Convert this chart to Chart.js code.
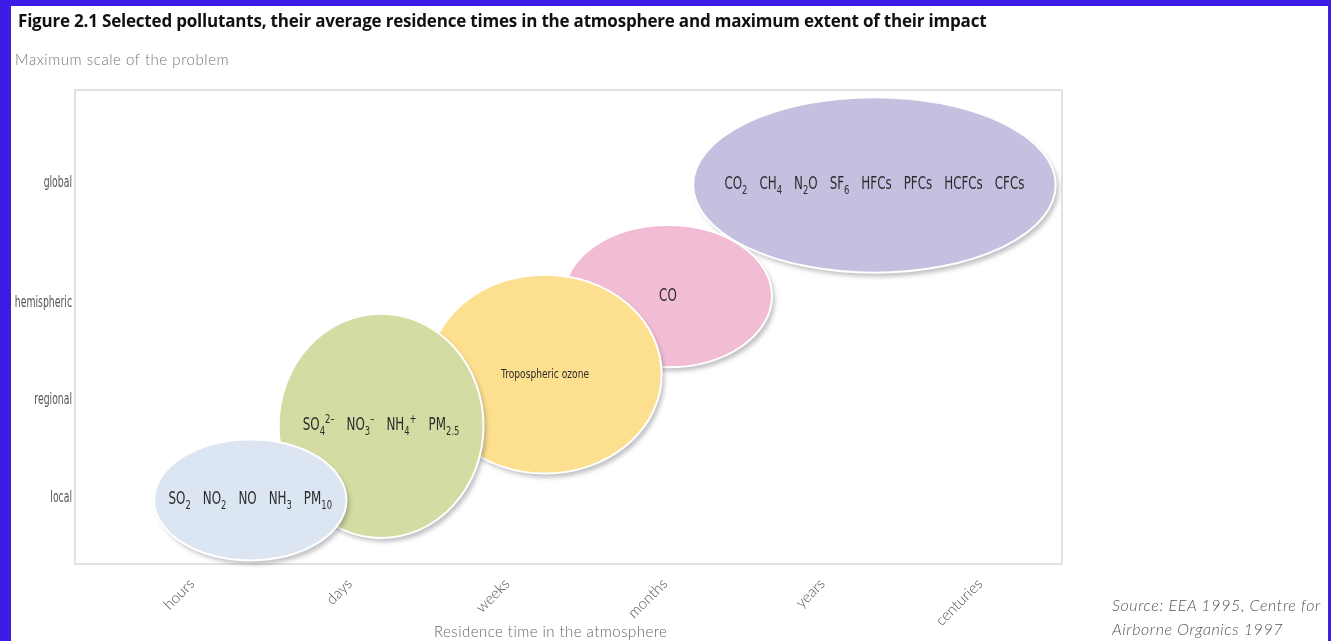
<!DOCTYPE html>
<html>
<head>
<meta charset="utf-8">
<script src="https://cdn.jsdelivr.net/npm/chart.js@4"></script>
<style>
  body { margin: 0; background: #3b1de6; width: 1331px; height: 641px; overflow: hidden; position: relative; }
  #panel { position: absolute; left: 11px; top: 6px; width: 1317px; height: 635px; background: #fff; }
  #wrap { position: absolute; left: 0; top: 0; width: 1331px; height: 641px; }
  .txt { position: absolute; white-space: nowrap; }
  #title { left: 18px; top: 9px; font: bold 17px 'Open Sans', sans-serif; color: #111; letter-spacing: -0.2px; }
  #sub { left: 15px; top: 50px; font: 300 15px 'Lato', sans-serif; color: #777; letter-spacing: 0.55px; }
  #xtitle { left: 434px; top: 622px; font: 300 15px 'Lato', sans-serif; color: #666; letter-spacing: 0.45px; }
  #source { left: 1112px; top: 593px; font: italic 300 16px 'Lato', sans-serif; color: #555; line-height: 24px; letter-spacing: 0.6px; }
</style>
</head>
<body>
<div id="panel"></div>
<div id="wrap"><canvas id="pollutantChart" width="1331" height="641"></canvas></div>
<div class="txt" id="title">Figure 2.1 Selected pollutants, their average residence times in the atmosphere and maximum extent of their impact</div>
<div class="txt" id="sub">Maximum scale of the problem</div>
<div class="txt" id="xtitle">Residence time in the atmosphere</div>
<div class="txt" id="source">Source: EEA 1995, Centre for<br>Airborne Organics 1997</div>
<script>
// axis categories
const timeLabels = ['hours', 'days', 'weeks', 'months', 'years', 'centuries'];
const timeTicks = [0, 1, 2, 3, 4, 5];
const scaleLabels = ['local', 'regional', 'hemispheric', 'global'];
const scaleTicks = [1, 2, 3, 4.23];

// pollutant groups: centre and half extent in axis units
const groupNames = ['primary', 'secondary aerosols', 'ozone', 'carbon monoxide', 'long-lived gases'];
const centerTime = [0.37, 1.2, 2.24, 3.02, 4.33];
const centerScale = [0.97, 1.73, 2.26, 3.06, 4.2];
const spanTime = [0.61, 0.65, 0.74, 0.66, 1.15];
const spanScale = [0.62, 1.15, 1.02, 0.73, 0.9];
const groupText = [
  ['SO_{2}', 'NO_{2}', 'NO', 'NH_{3}', 'PM_{10}'],
  ['SO_{4}^{2–}', 'NO_{3}^{–}', 'NH_{4}^{+}', 'PM_{2.5}'],
  ['Tropospheric ozone'],
  ['CO'],
  ['CO_{2}', 'CH_{4}', 'N_{2}O', 'SF_{6}', 'HFCs', 'PFCs', 'HCFCs', 'CFCs']
];
const groupColors = ['#dce6f3', '#d4dca3', '#fde08f', '#f2bdd4', '#c6c0e0'];

const narrowFont = "'DejaVu Sans', sans-serif";
const squeeze = 0.7;

// split a label into normal, _{sub} and ^{sup} parts
function richParts(str) {
  let parts = [];
  let re = /(_\{[^}]*\}|\^\{[^}]*\}|[^_^]+)/g;
  let m;
  while ((m = re.exec(str)) !== null) {
    let t = m[0];
    if (t[0] === '_') parts.push({ text: t.slice(2, -1), kind: 'sub' });
    else if (t[0] === '^') parts.push({ text: t.slice(2, -1), kind: 'sup' });
    else parts.push({ text: t, kind: 'norm' });
  }
  return parts;
}

function partFont(kind, size) {
  let s = kind === 'norm' ? size : Math.round(size * 0.7);
  return s + 'px ' + narrowFont;
}

// text squeezed sideways to look like the condensed face of the original
function drawItems(ctx, items, cx, cy, size, gap) {
  let all = items.map(richParts);
  let widths = all.map(function(parts) {
    let w = 0;
    parts.forEach(function(p) { ctx.font = partFont(p.kind, size); w += ctx.measureText(p.text).width * squeeze; });
    return w;
  });
  let total = widths.reduce(function(a, b) { return a + b; }, 0) + gap * (items.length - 1);
  let x = cx - total / 2;
  ctx.textBaseline = 'middle';
  ctx.textAlign = 'left';
  all.forEach(function(parts) {
    parts.forEach(function(p) {
      ctx.font = partFont(p.kind, size);
      let dy = p.kind === 'sub' ? size * 0.34 : (p.kind === 'sup' ? -size * 0.36 : 0);
      ctx.save();
      ctx.translate(x, cy + dy);
      ctx.scale(squeeze, 1);
      ctx.fillText(p.text, 0, 0);
      ctx.restore();
      x += ctx.measureText(p.text).width * squeeze;
    });
    x += gap;
  });
}

// ellipses drawn from the scatter points and the scales
const ellipsePlugin = {
  id: 'ellipses',
  beforeDatasetsDraw: function(chart) {
    let ctx = chart.ctx;
    let xs = chart.scales.x, ys = chart.scales.y;
    let a = chart.chartArea;
    // frame
    ctx.save();
    ctx.strokeStyle = '#e2e2e2';
    ctx.lineWidth = 2;
    ctx.strokeRect(a.left, a.top, a.right - a.left, a.bottom - a.top);
    ctx.restore();
    for (let i = centerTime.length - 1; i >= 0; i -= 1) {
      let px = xs.getPixelForValue(centerTime[i]);
      let py = ys.getPixelForValue(centerScale[i]);
      let rx = Math.abs(xs.getPixelForValue(centerTime[i] + spanTime[i]) - px);
      let ry = Math.abs(ys.getPixelForValue(centerScale[i] + spanScale[i]) - py);
      ctx.save();
      ctx.beginPath();
      ctx.ellipse(px, py, rx, ry, 0, 0, Math.PI * 2);
      ctx.shadowColor = 'rgba(80,80,90,0.35)';
      ctx.shadowBlur = 4;
      ctx.shadowOffsetX = 3;
      ctx.shadowOffsetY = 4;
      ctx.fillStyle = groupColors[i];
      ctx.fill();
      ctx.shadowColor = 'transparent';
      ctx.lineWidth = 2;
      ctx.strokeStyle = '#ffffff';
      ctx.stroke();
      ctx.restore();
    }
  },
  afterDatasetsDraw: function(chart) {
    let ctx = chart.ctx;
    let meta = chart.getDatasetMeta(0);
    ctx.save();
    ctx.fillStyle = '#2b2b2b';
    meta.data.forEach(function(pt, i) {
      let size = groupText[i].length === 1 && groupText[i][0].length > 4 ? 13 : 17;
      drawItems(ctx, groupText[i], pt.x, pt.y, size, 12);
    });
    // y axis labels, squeezed like the original
    let ys = chart.scales.y;
    ctx.fillStyle = '#555';
    ctx.font = '15px ' + narrowFont;
    ctx.textAlign = 'right';
    ctx.textBaseline = 'middle';
    ys.ticks.forEach(function(t, i) {
      ctx.save();
      ctx.translate(chart.chartArea.left - 3, ys.getPixelForValue(t.value) + 1);
      ctx.scale(0.62, 1);
      ctx.fillText(scaleLabels[i], 0, 0);
      ctx.restore();
    });
    ctx.restore();
  }
};

var ctx = document.getElementById('pollutantChart').getContext('2d');
var chart = new Chart(ctx, {
  type: 'scatter',
  data: {
    datasets: [{
      label: 'pollutants',
      data: centerTime.map(function(t, i) { return { x: t, y: centerScale[i] }; }),
      pointRadius: 0,
      pointHoverRadius: 0
    }]
  },
  options: {
    responsive: false,
    animation: false,
    events: [],
    layout: { padding: { top: 90, right: 269, left: 0, bottom: 0 } },
    plugins: {
      legend: { display: false },
      tooltip: { enabled: false }
    },
    scales: {
      x: {
        type: 'linear',
        min: -0.742,
        max: 5.52,
        grid: { display: false },
        border: { display: false },
        afterBuildTicks: function(scale) { scale.ticks = timeTicks.map(function(v) { return { value: v }; }); },
        afterFit: function(scale) { scale.height = 77; },
        ticks: {
          autoSkip: false,
          minRotation: 45,
          maxRotation: 45,
          padding: 3,
          color: '#555',
          font: { family: 'Lato', size: 15, weight: 300 },
          callback: function(v, i) { return timeLabels[i]; }
        }
      },
      y: {
        type: 'linear',
        min: 0.313,
        max: 5.174,
        grid: { display: false },
        border: { display: false },
        afterBuildTicks: function(scale) { scale.ticks = scaleTicks.map(function(v) { return { value: v }; }); },
        afterFit: function(scale) { scale.width = 75; },
        ticks: {
          display: false,
          callback: function(v, i) { return scaleLabels[i]; }
        }
      }
    }
  },
  plugins: [ellipsePlugin]
});
</script>
</body>
</html>
